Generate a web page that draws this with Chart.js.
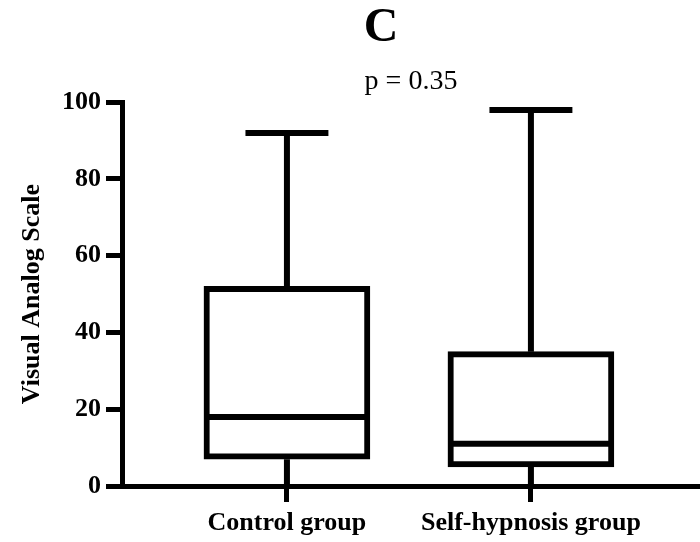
<!DOCTYPE html>
<html>
<head>
<meta charset="utf-8">
<script src="https://cdn.jsdelivr.net/npm/chart.js@4/dist/chart.umd.min.js"></script>
<style>
  html, body { margin: 0; padding: 0; background: #fff; }
  #wrap { width: 700px; height: 542px; }
</style>
</head>
<body>
<div id="wrap"><canvas id="vasChart"></canvas></div>
<script>
// data
var groups = ['Control group', 'Self-hypnosis group'];
var minVals = [0, 0];
var q1Vals = [7, 5];
var medianVals = [18, 11];
var q3Vals = [52, 35];
var maxVals = [92, 98];

var yTicksMin = 0, yTicksMax = 100, yStep = 20;

var serif = "'Liberation Serif', 'Times New Roman', serif";
var boxWidth = 0.67;   // in category units
var capWidth = 0.34;
var lw = 6;

// whiskers + medians, drawn through the chart scales
var boxPlot = {
  id: 'boxPlot',
  afterLayout: function (chart) {
    // title "C" sits a bit left of the plot centre in the original
    if (chart.titleBlock) { chart.titleBlock.left = 62; }
  },
  beforeDatasetsDraw: function (chart) {
    var xs = chart.scales.x, ys = chart.scales.y, ctx = chart.ctx;
    ctx.save();
    ctx.strokeStyle = '#000';
    ctx.lineWidth = lw;
    ctx.lineCap = 'butt';
    for (var i = 0; i < groups.length; i++) {
      var x = xs.getPixelForValue(i);
      var half = xs.getPixelForValue(i + capWidth / 2) - x;
      ctx.beginPath();
      ctx.moveTo(x, ys.getPixelForValue(maxVals[i]));
      ctx.lineTo(x, ys.getPixelForValue(q3Vals[i]));
      ctx.moveTo(x, ys.getPixelForValue(q1Vals[i]));
      ctx.lineTo(x, ys.getPixelForValue(minVals[i]));
      ctx.stroke();
      // top cap only, the bottom one sits on the x axis
      ctx.beginPath();
      ctx.moveTo(x - half, ys.getPixelForValue(maxVals[i]));
      ctx.lineTo(x + half, ys.getPixelForValue(maxVals[i]));
      ctx.stroke();
    }
    ctx.restore();
  },
  afterDatasetsDraw: function (chart) {
    var xs = chart.scales.x, ys = chart.scales.y, ctx = chart.ctx;
    ctx.save();
    ctx.strokeStyle = '#000';
    ctx.lineWidth = lw;
    for (var i = 0; i < groups.length; i++) {
      var x = xs.getPixelForValue(i);
      var half = xs.getPixelForValue(i + boxWidth / 2) - x;
      var y = ys.getPixelForValue(medianVals[i]);
      ctx.beginPath();
      ctx.moveTo(x - half, y);
      ctx.lineTo(x + half, y);
      ctx.stroke();
    }
    ctx.restore();
  }
};

var boxData = groups.map(function (g, i) {
  return { x: i, y: [q1Vals[i], q3Vals[i]] };
});

new Chart(document.getElementById('vasChart'), {
  type: 'bar',
  data: {
    datasets: [{
      data: boxData,
      backgroundColor: '#fff',
      borderColor: '#000',
      borderWidth: lw,
      borderSkipped: false,
      barThickness: 166
    }]
  },
  plugins: [boxPlot],
  options: {
    responsive: true,
    maintainAspectRatio: false,
    animation: false,
    layout: { padding: 0 },
    plugins: {
      legend: { display: false },
      tooltip: { enabled: false },
      title: {
        display: true,
        text: 'C',
        color: '#000',
        font: { family: serif, size: 48, weight: 'bold' },
        padding: { top: 0, bottom: 0 }
      },
      subtitle: {
        display: true,
        text: 'p = 0.35',
        color: '#000',
        fullSize: false,
        font: { family: serif, size: 28, weight: 'normal' },
        padding: { top: 7, bottom: 4 }
      }
    },
    scales: {
      x: {
        type: 'linear',
        offset: false,
        min: -0.676,
        max: 1.693,
        afterBuildTicks: function (scale) {
          scale.ticks = groups.map(function (g, i) { return { value: i }; });
        },
        afterFit: function (scale) { scale.height = 56; },
        ticks: {
          color: '#000',
          padding: 6,
          maxRotation: 0,
          autoSkip: false,
          font: { family: serif, size: 26, weight: 'bold' },
          callback: function (v) { return groups[v]; }
        },
        grid: { offset: false, drawOnChartArea: false, tickLength: 16, lineWidth: 5, color: '#000' },
        border: { display: true, width: 5, color: '#000' }
      },
      y: {
        min: yTicksMin,
        max: yTicksMax,
        afterFit: function (scale) { scale.width = 122; },
        ticks: {
          stepSize: yStep,
          color: '#000',
          padding: 5,
          font: { family: serif, size: 26, weight: 'bold' }
        },
        grid: { drawOnChartArea: false, tickLength: 16, lineWidth: 5, color: '#000' },
        border: { display: true, width: 5, color: '#000' },
        title: {
          display: true,
          text: 'Visual Analog Scale',
          color: '#000',
          font: { family: serif, size: 26, weight: 'bold' },
          padding: { top: 17, bottom: 0 }
        }
      }
    }
  }
});
</script>
</body>
</html>
